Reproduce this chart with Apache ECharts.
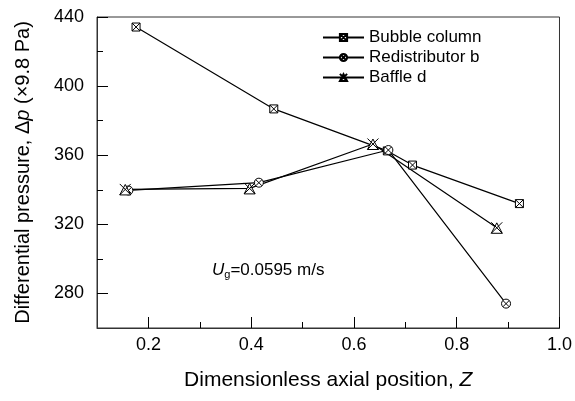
<!DOCTYPE html>
<html>
<head>
<meta charset="utf-8">
<script src="https://cdn.jsdelivr.net/npm/echarts@6/dist/echarts.min.js"></script>
<style>html,body{margin:0;padding:0;background:#fff}#c{width:575px;height:401px}</style>
</head>
<body>
<div id="c"></div>
<script>
const seriesNames = ['Bubble column', 'Redistributor b', 'Baffle d'];
const bubbleZ = [0.176, 0.444, 0.665, 0.714, 0.922];
const bubbleDp = [434.2, 386.8, 362.5, 354.3, 332.0];
const redistZ = [0.161, 0.415, 0.667, 0.896];
const redistDp = [339.6, 344.1, 363.0, 274.1];
const baffleZ = [0.155, 0.397, 0.637, 0.878];
const baffleDp = [340.2, 340.8, 366.5, 318.0];
const xMajorTicks = [0.2, 0.4, 0.6, 0.8, 1.0];
const xMinorTicks = [0.3, 0.5, 0.7, 0.9];
const yMajorTicks = [280, 320, 360, 400, 440];
const yMinorTicks = [300, 340, 380, 420];

const FONT = '"Liberation Sans", Arial, sans-serif';
const AX = '#333';
const symSquare = 'path://M0,0L10,0L10,10L0,10Z M0,0L10,10 M10,0L0,10';
const symCircle = 'path://M10,5A5,5 0 1,1 0,5A5,5 0 1,1 10,5Z M1.6,1.6L8.4,8.4 M8.4,1.6L1.6,8.4';
const symBaffle = 'path://M5,0.5L10,10L0,10Z M0,0L10,10 M10,0L0,10';

function pairs(xs, ys) { return xs.map((x, i) => [x, ys[i]]); }

function mkSeries(name, xs, ys, sym, size) {
  return {
    name: name, type: 'line', xAxisIndex: 0, yAxisIndex: 0,
    data: pairs(xs, ys),
    symbol: sym, symbolSize: size, symbolKeepAspect: true,
    showAllSymbol: true,
    itemStyle: { color: '#fff', borderColor: '#000', borderWidth: 1 },
    lineStyle: { color: '#000', width: 1.2 },
    emphasis: { disabled: true },
    animation: false
  };
}

const chart = echarts.init(document.getElementById('c'), null, { renderer: 'canvas' });
chart.setOption({
  animation: false,
  grid: { left: 97, right: 14, top: 17, bottom: 73, show: true, borderColor: AX, borderWidth: 1, containLabel: false },
  legend: {
    orient: 'vertical', left: 317, top: 24, itemWidth: 41, itemHeight: 9, itemGap: 3,
    textStyle: { fontFamily: FONT, fontSize: 17, color: '#000' },
    data: seriesNames
  },
  xAxis: [
    {
      type: 'value', min: 0.1, max: 1.0, interval: 0.1, position: 'bottom',
      name: 'Dimensionless axial position, {i|Z}', nameLocation: 'middle', nameGap: 42,
      nameTextStyle: { fontFamily: FONT, fontSize: 21, color: '#000',
        rich: { i: { fontFamily: FONT, fontSize: 21, fontStyle: 'italic', color: '#000' } } },
      axisLine: { show: true, onZero: false, lineStyle: { color: AX, width: 1 } },
      axisTick: { show: true, inside: true, length: 11, customValues: xMajorTicks, lineStyle: { color: '#000' } },
      axisLabel: { show: true, customValues: xMajorTicks, margin: 8, fontFamily: FONT, fontSize: 18, color: '#000',
        formatter: v => Number(v).toFixed(1) },
      splitLine: { show: false }
    },
    {
      type: 'value', min: 0.1, max: 1.0, interval: 0.1, position: 'bottom',
      axisLine: { show: false, onZero: false },
      axisTick: { show: true, inside: true, length: 6, customValues: xMinorTicks, lineStyle: { color: '#000' } },
      axisLabel: { show: false },
      splitLine: { show: false }
    }
  ],
  yAxis: [
    {
      type: 'value', min: 260, max: 440, interval: 20, position: 'left',
      name: 'Differential pressure, Δ{i|p} (×9.8 Pa)', nameLocation: 'middle', nameGap: 64, nameRotate: 90,
      nameTextStyle: { fontFamily: FONT, fontSize: 20, color: '#000',
        rich: { i: { fontFamily: FONT, fontSize: 20, fontStyle: 'italic', color: '#000' } } },
      axisLine: { show: true, onZero: false, lineStyle: { color: AX, width: 1 } },
      axisTick: { show: true, inside: true, length: 11, customValues: yMajorTicks, lineStyle: { color: '#000' } },
      axisLabel: { show: true, customValues: yMajorTicks, margin: 13, fontFamily: FONT, fontSize: 18, color: '#000' },
      splitLine: { show: false }
    },
    {
      type: 'value', min: 260, max: 440, interval: 20, position: 'left',
      axisLine: { show: false, onZero: false },
      axisTick: { show: true, inside: true, length: 6, customValues: yMinorTicks, lineStyle: { color: '#000' } },
      axisLabel: { show: false },
      splitLine: { show: false }
    }
  ],
  series: [
    mkSeries(seriesNames[0], bubbleZ, bubbleDp, symSquare, 8),
    mkSeries(seriesNames[1], redistZ, redistDp, symCircle, 9),
    mkSeries(seriesNames[2], baffleZ, baffleDp, symBaffle, 11)
  ],
  graphic: [
    {
      type: 'text', left: 212, top: 262, silent: true,
      style: {
        text: '{u|U}{g|g}{n|=0.0595 m/s}',
        rich: {
          u: { fontFamily: FONT, fontSize: 17, fontStyle: 'italic', fill: '#000' },
          g: { fontFamily: FONT, fontSize: 11, fill: '#000', padding: [9, 0, 0, 0] },
          n: { fontFamily: FONT, fontSize: 17, fill: '#000' }
        }
      }
    }
  ]
});
</script>
</body>
</html>
